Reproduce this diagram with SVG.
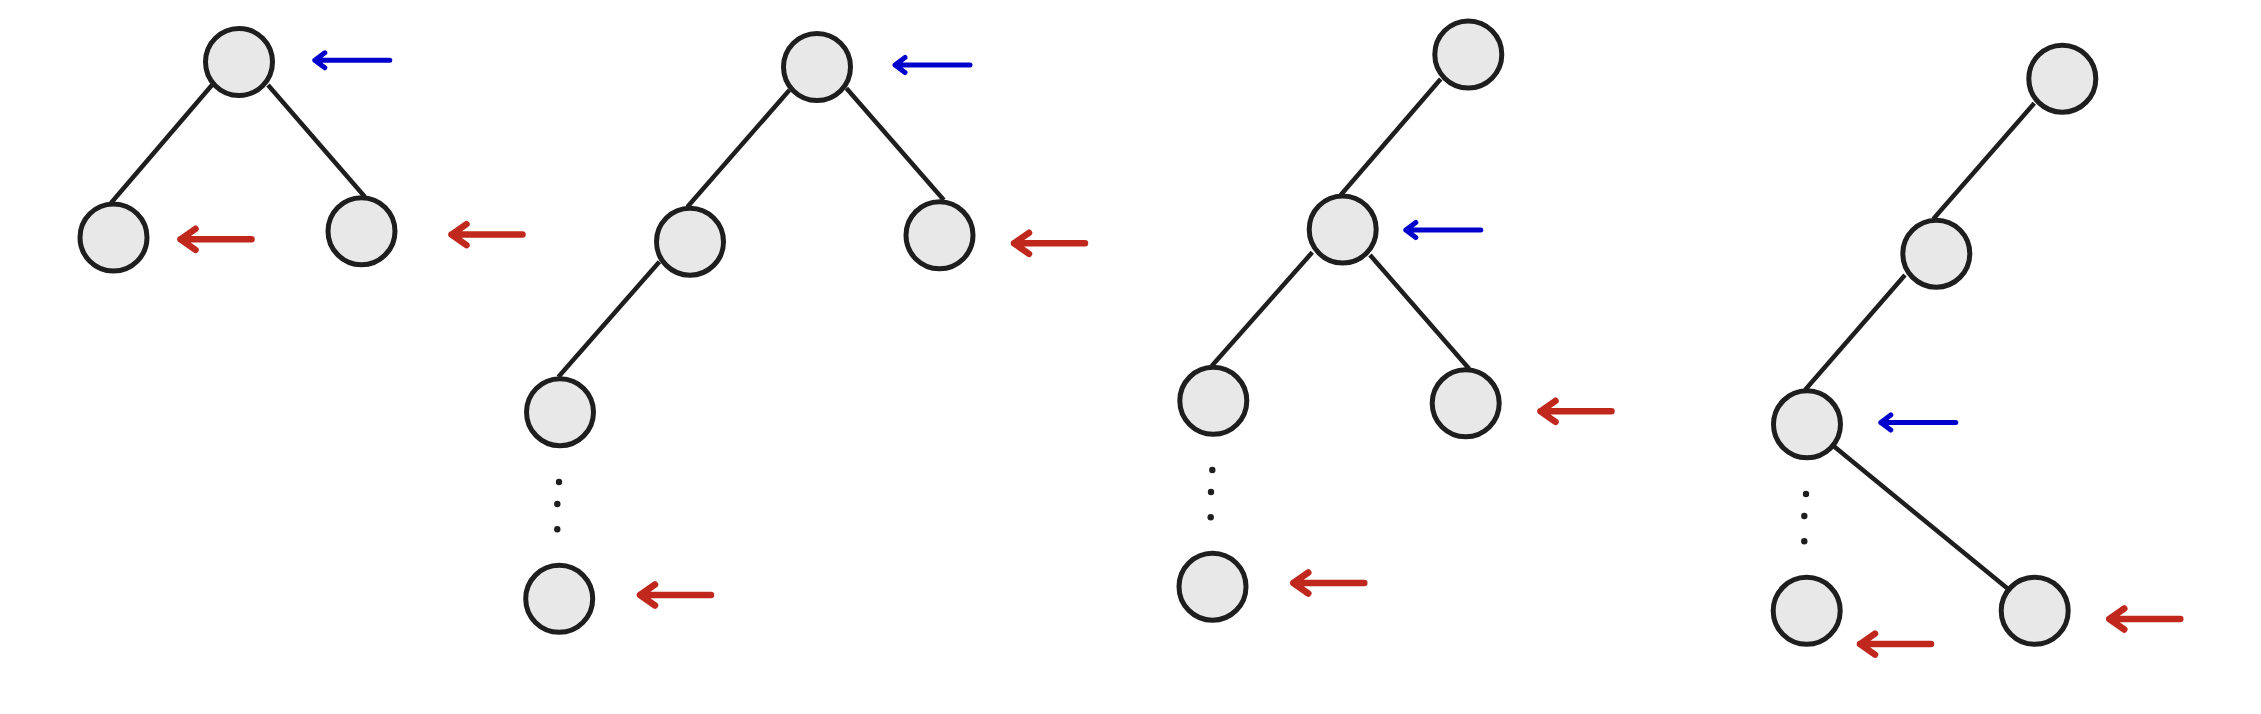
<svg xmlns="http://www.w3.org/2000/svg" xmlns:xlink="http://www.w3.org/1999/xlink" width="2261" height="714" viewBox="0 0 2261 714">
<style>
.node{fill:#e8e8e8;stroke:#1e1e1e;stroke-width:5}
.edge{stroke:#1e1e1e;stroke-width:4.5;fill:none;stroke-linecap:butt}
.dot{fill:#1e1e1e}
.blue{fill:none;stroke:#0000cc;stroke-width:5;stroke-linecap:round;stroke-linejoin:round}
.red{fill:none;stroke:#c0281e;stroke-width:6.5;stroke-linecap:round;stroke-linejoin:round}
</style>
<defs>
<path id="ab" class="blue" d="M0,0 L75,0 M10,-7.5 L0,0 L10,7.5"/>
<path id="ar" class="red" d="M0,0 L71,0 M15,-10.5 L0,0 L15,10.5"/>
</defs>
<rect width="2261" height="714" fill="#ffffff"/>
<g id="connectors">
<line class="edge" x1="212" y1="85" x2="111" y2="203"/>
<line class="edge" x1="268" y1="85" x2="365" y2="197"/>
<line class="edge" x1="789.5" y1="90" x2="687.3" y2="207"/>
<line class="edge" x1="846.4" y1="88.3" x2="943.8" y2="200"/>
<line class="edge" x1="659.4" y1="261.7" x2="558.3" y2="377"/>
<line class="edge" x1="1440.7" y1="79" x2="1340.7" y2="195"/>
<line class="edge" x1="1312.3" y1="252.3" x2="1211.7" y2="366"/>
<line class="edge" x1="1370" y1="255" x2="1469.3" y2="369"/>
<line class="edge" x1="2034.3" y1="103.3" x2="1933.3" y2="219"/>
<line class="edge" x1="1905" y1="275" x2="1805" y2="390"/>
<line class="edge" x1="1807" y1="424.3" x2="2034.7" y2="610.8"/>
</g>
<g id="tree1">
<g id="t1-root"><circle class="node" cx="239" cy="62" r="33.5"/></g>
<g id="t1-left"><circle class="node" cx="113.5" cy="237.5" r="33.5"/></g>
<g id="t1-right"><circle class="node" cx="361.5" cy="231.2" r="33.5"/></g>
</g>
<g id="tree2">
<g id="t2-root"><circle class="node" cx="817" cy="67" r="33.5"/></g>
<g id="t2-left"><circle class="node" cx="690" cy="241.7" r="33.5"/></g>
<g id="t2-right"><circle class="node" cx="939.5" cy="235.3" r="33.5"/></g>
<g id="t2-leftleft"><circle class="node" cx="560" cy="412.2" r="33.5"/></g>
<g id="t2-bottom"><circle class="node" cx="559.2" cy="598.8" r="33.5"/></g>
</g>
<g id="tree3">
<g id="t3-root"><circle class="node" cx="1468.3" cy="54.5" r="33.5"/></g>
<g id="t3-mid"><circle class="node" cx="1342.7" cy="229.5" r="33.5"/></g>
<g id="t3-left"><circle class="node" cx="1213.3" cy="400.8" r="33.5"/></g>
<g id="t3-right"><circle class="node" cx="1465.7" cy="403.3" r="33.5"/></g>
<g id="t3-bottom"><circle class="node" cx="1212.5" cy="586.7" r="33.5"/></g>
</g>
<g id="tree4">
<g id="t4-root"><circle class="node" cx="2062.3" cy="78.7" r="33.5"/></g>
<g id="t4-mid"><circle class="node" cx="1936.3" cy="253.7" r="33.5"/></g>
<g id="t4-left"><circle class="node" cx="1807" cy="424.3" r="33.5"/></g>
<g id="t4-bottomleft"><circle class="node" cx="1806.7" cy="610.8" r="33.5"/></g>
<g id="t4-bottomright"><circle class="node" cx="2034.7" cy="610.8" r="33.5"/></g>
</g>
<g id="ellipses">
<circle class="dot" cx="559" cy="482" r="3.2"/>
<circle class="dot" cx="557.3" cy="504" r="3.2"/>
<circle class="dot" cx="557.3" cy="529.3" r="3.2"/>
<circle class="dot" cx="1212.3" cy="470" r="3.2"/>
<circle class="dot" cx="1211" cy="492" r="3.2"/>
<circle class="dot" cx="1210.7" cy="517.3" r="3.2"/>
<circle class="dot" cx="1806" cy="494" r="3.2"/>
<circle class="dot" cx="1804.3" cy="516" r="3.2"/>
<circle class="dot" cx="1804.3" cy="541.3" r="3.2"/>
</g>
<g id="pointers">
<use xlink:href="#ab" href="#ab" transform="translate(314.8,60.3)"/>
<use xlink:href="#ab" href="#ab" transform="translate(895,65)"/>
<use xlink:href="#ab" href="#ab" transform="translate(1405.8,230)"/>
<use xlink:href="#ab" href="#ab" transform="translate(1880.8,422.5)"/>
<use xlink:href="#ar" href="#ar" transform="translate(180.5,239.3)"/>
<use xlink:href="#ar" href="#ar" transform="translate(451.5,234.6)"/>
<use xlink:href="#ar" href="#ar" transform="translate(1014,243.3)"/>
<use xlink:href="#ar" href="#ar" transform="translate(640,595)"/>
<use xlink:href="#ar" href="#ar" transform="translate(1540.5,411.3)"/>
<use xlink:href="#ar" href="#ar" transform="translate(1293.3,583)"/>
<use xlink:href="#ar" href="#ar" transform="translate(1860,644.1)"/>
<use xlink:href="#ar" href="#ar" transform="translate(2109.3,619)"/>
</g>
</svg>
